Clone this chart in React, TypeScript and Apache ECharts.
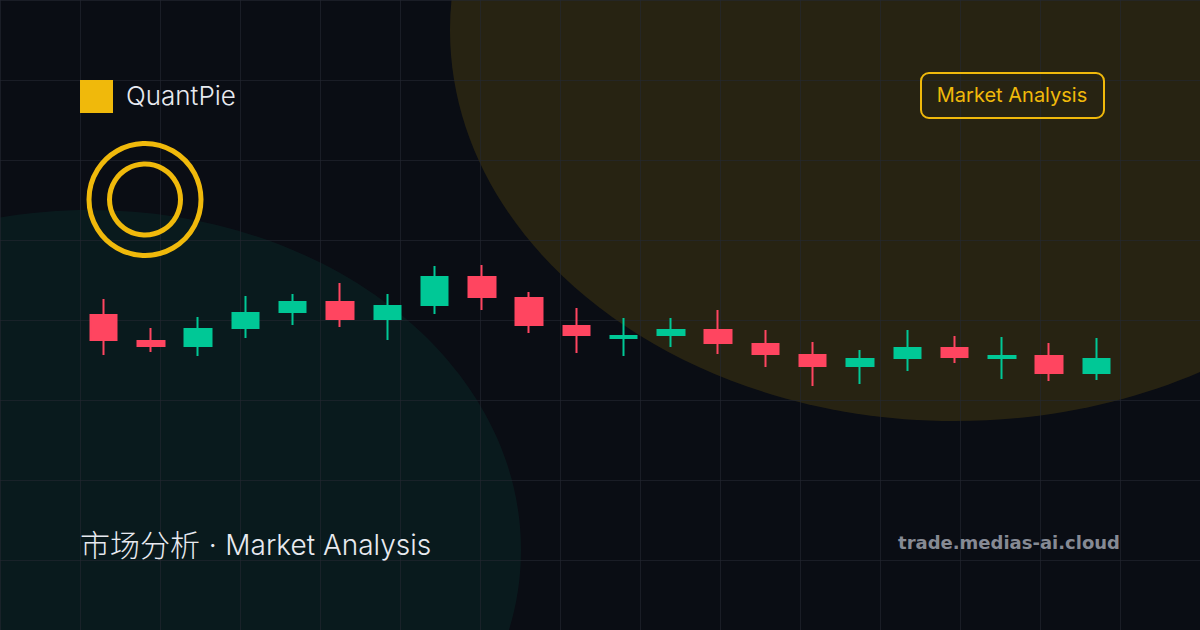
import React, { useEffect, useRef } from "react";
import * as echarts from "echarts";

const categories = ["1","2","3","4","5","6","7","8","9","10","11","12","13","14","15","16","17","18","19","20","21","22"];
const opens  = [85, 59, 54, 72, 88, 98, 81, 95, 123, 102, 74, 62, 65, 70, 56, 45, 34, 42, 52, 42, 44, 27];
const closes = [60, 54, 71, 87, 98, 81, 94, 123, 103, 75, 65, 64, 70, 57, 46, 34, 41, 52, 43, 44, 27, 41];
const lows   = [45, 48, 44, 62, 75, 73, 60, 86, 90, 67, 47, 44, 53, 46, 33, 14, 16, 29, 37, 21, 19, 20];
const highs  = [101, 72, 83, 104, 106, 117, 106, 134, 135, 108, 92, 82, 82, 90, 70, 58, 50, 70, 64, 63, 57, 62];
const gridStops = [0, 80, 160, 240, 320, 400, 480, 560, 640, 720, 800, 880, 960, 1040, 1120];
const gridRows = [0, 80, 160, 240, 320, 400, 480, 560];
const brand = "QuantPie";
const badge = "Market Analysis";
const titleCn = "市场分析 · ";
const titleEn = "Market Analysis";
const domain = "trade.medias-ai.cloud";

const GOLD = "#f0b90b";
const UP = "#00c896";
const DOWN = "#ff4560";
const SANS = "Inter, 'Noto Sans CJK SC', sans-serif";

export default function App() {
  const ref = useRef<HTMLDivElement>(null);
  useEffect(() => {
    document.body.style.margin = "0";
    document.body.style.background = "#0a0d14";
    const chart = echarts.init(ref.current!, undefined, { renderer: "svg" });
    const lineStyle = { stroke: "rgba(36,40,50,0.6)", lineWidth: 1 };
    const graphic: any[] = [
      { type: "ellipse", silent: true, z: 0, shape: { cx: 955, cy: 30, rx: 505, ry: 391 }, style: { fill: "rgba(240,185,11,0.13)" } },
      { type: "ellipse", silent: true, z: 0, shape: { cx: 90, cy: 550, rx: 431, ry: 340 }, style: { fill: "rgba(0,200,150,0.07)" } },
      ...gridStops.map((x) => ({ type: "line", silent: true, z: 1, shape: { x1: x + 0.5, y1: 0, x2: x + 0.5, y2: 630 }, style: lineStyle })),
      ...gridRows.map((y) => ({ type: "line", silent: true, z: 1, shape: { x1: 0, y1: y + 0.5, x2: 1200, y2: y + 0.5 }, style: lineStyle })),
      { type: "rect", silent: true, z: 3, shape: { x: 80, y: 80, width: 33, height: 33 }, style: { fill: GOLD } },
      { type: "text", silent: true, z: 3, x: 126, y: 95, style: { text: brand, fill: "#e8eaf0", font: "300 26px " + SANS, textAlign: "left", textVerticalAlign: "middle" } },
      { type: "circle", silent: true, z: 3, shape: { cx: 145, cy: 199.5, r: 56 }, style: { fill: "none", stroke: GOLD, lineWidth: 5 } },
      { type: "circle", silent: true, z: 3, shape: { cx: 145, cy: 199.5, r: 35.5 }, style: { fill: "none", stroke: GOLD, lineWidth: 5 } },
      { type: "rect", silent: true, z: 3, shape: { x: 921, y: 73, width: 183, height: 45, r: 8 }, style: { fill: "none", stroke: GOLD, lineWidth: 2 } },
      { type: "text", silent: true, z: 3, x: 1012, y: 95, style: { text: badge, fill: GOLD, font: "400 20px " + SANS, textAlign: "center", textVerticalAlign: "middle" } },
      { type: "text", silent: true, z: 3, x: 80, y: 545, style: {
        text: `{cn|${titleCn}}{en|${titleEn}}`,
        textAlign: "left", textVerticalAlign: "middle",
        rich: {
          cn: { fill: "#e8eaf0", font: "300 30px " + SANS },
          en: { fill: "#e8eaf0", font: "300 28px " + SANS },
        },
      } },
      { type: "text", silent: true, z: 3, x: 1120, y: 542, style: { text: domain, fill: "#868a94", font: "700 18px 'DejaVu Sans'", textAlign: "right", textVerticalAlign: "middle" } },
    ];
    chart.setOption({
      animation: false,
      backgroundColor: "#0a0d14",
      graphic,
      grid: { left: 80, right: 80, top: 240, height: 160 },
      xAxis: { type: "category", data: categories, show: false },
      yAxis: { type: "value", min: 0, max: 160, show: false },
      series: [{
        type: "candlestick",
        barWidth: 27,
        z: 5,
        itemStyle: { color: UP, color0: DOWN, borderColor: UP, borderColor0: DOWN, borderWidth: 2 },
        data: categories.map((_, i) => [opens[i], closes[i], lows[i], highs[i]]),
      }],
    });
    return () => chart.dispose();
  }, []);
  return <div ref={ref} style={{ width: 1200, height: 630 }} />;
}
